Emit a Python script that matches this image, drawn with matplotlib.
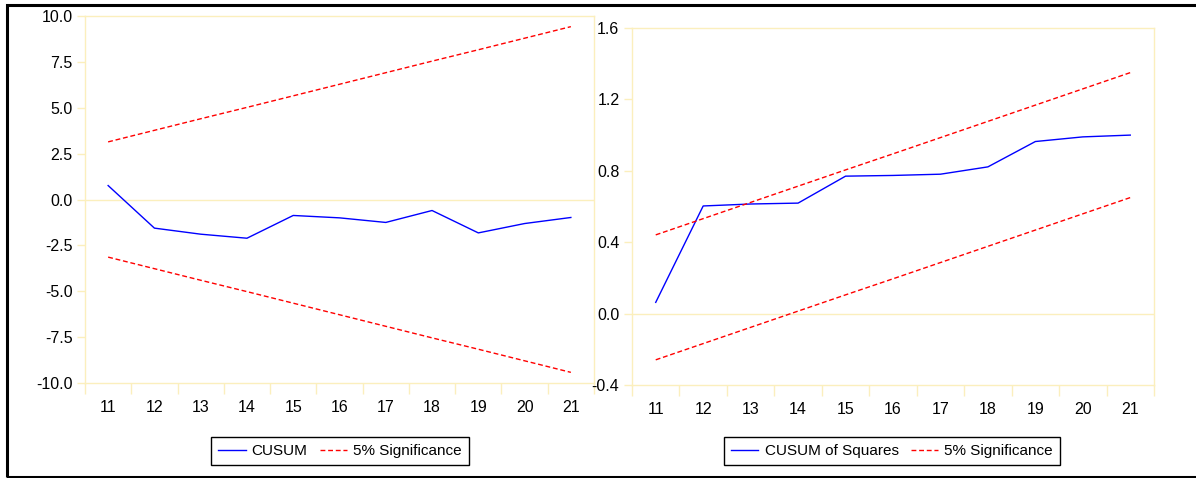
import numpy as np
import matplotlib
matplotlib.use('Agg')
import matplotlib.pyplot as plt
from matplotlib.patches import Rectangle

plt.rcParams['font.family'] = ['Liberation Sans', 'DejaVu Sans']

# 觀測期
periods = [11, 12, 13, 14, 15, 16, 17, 18, 19, 20, 21]

# CUSUM 與 5% 顯著水準界線
cusum = [0.76, -1.56, -1.89, -2.11, -0.87, -1.0, -1.25, -0.6, -1.82, -1.31, -0.98]
cusum_upper = [3.14, 3.77, 4.40, 5.02, 5.65, 6.28, 6.91, 7.54, 8.16, 8.79, 9.42]
cusum_lower = [-3.14, -3.77, -4.40, -5.02, -5.65, -6.28, -6.91, -7.54, -8.16, -8.79, -9.42]

# CUSUM of Squares 與 5% 顯著水準界線
cusumsq = [0.063, 0.603, 0.614, 0.619, 0.77, 0.774, 0.781, 0.822, 0.964, 0.99, 1.0]
sq_upper = [0.441, 0.532, 0.623, 0.714, 0.805, 0.895, 0.986, 1.077, 1.168, 1.259, 1.350]
sq_lower = [-0.259, -0.168, -0.077, 0.014, 0.105, 0.195, 0.286, 0.377, 0.468, 0.559, 0.650]

left_yticks = [-10.0, -7.5, -5.0, -2.5, 0.0, 2.5, 5.0, 7.5, 10.0]
right_yticks = [-0.4, 0.0, 0.4, 0.8, 1.2, 1.6]

frame_col = '#fbefbd'
fs = 11.5

fig = plt.figure(figsize=(11.96, 4.78), dpi=100)

# 外框
fig.patches.append(Rectangle((7 / 1196, 1 - 477 / 478), 1.2, 472 / 478,
                             transform=fig.transFigure, fill=False,
                             edgecolor='black', linewidth=2.2, clip_on=False))


def style_axes(ax, ylim, yticks, fmt):
    ax.set_xlim(10.5, 21.5)
    ax.set_ylim(*ylim)
    for s in ax.spines.values():
        s.set_color(frame_col)
        s.set_linewidth(1.0)
    ax.axhline(0, color=frame_col, lw=1.0, zorder=1)
    ax.set_xticks(periods)
    ax.set_xticklabels([str(p) for p in periods], fontsize=fs)
    ax.set_xticks(np.arange(10.5, 22, 1.0), minor=True)
    ax.tick_params(axis='x', which='major', length=0, pad=12)
    ax.tick_params(axis='x', which='minor', length=8, color=frame_col, width=1)
    ax.set_yticks(yticks)
    ax.set_yticklabels([fmt.format(v) for v in yticks], fontsize=fs)
    ax.tick_params(axis='y', length=6, color=frame_col, width=1, pad=3)


# 左圖：CUSUM
ax1 = fig.add_axes([85 / 1196, 1 - 383 / 478, 509 / 1196, 367 / 478])
l1, = ax1.plot(periods, cusum, color='#0000ff', lw=1.0, zorder=3)
l2, = ax1.plot(periods, cusum_upper, color='#ff0000', lw=1.0, ls=(0, (3.5, 2)), zorder=3)
ax1.plot(periods, cusum_lower, color='#ff0000', lw=1.0, ls=(0, (3.5, 2)), zorder=3)
style_axes(ax1, (-10, 10), left_yticks, '{:.1f}')

# 右圖：CUSUM of Squares
ax2 = fig.add_axes([632 / 1196, 1 - 385 / 478, 522 / 1196, 357 / 478])
r1, = ax2.plot(periods, cusumsq, color='#0000ff', lw=1.0, zorder=3)
r2, = ax2.plot(periods, sq_upper, color='#ff0000', lw=1.0, ls=(0, (3.5, 2)), zorder=3)
ax2.plot(periods, sq_lower, color='#ff0000', lw=1.0, ls=(0, (3.5, 2)), zorder=3)
style_axes(ax2, (-0.4, 1.6), right_yticks, '{:.1f}')

# 圖例
for handles, labels, cx in [((l1, l2), ('CUSUM', '5% Significance'), 340 / 1196),
                            ((r1, r2), ('CUSUM of Squares', '5% Significance'), 892 / 1196)]:
    leg = fig.legend(handles, labels, loc='center', bbox_to_anchor=(cx, 1 - 451 / 478),
                     bbox_transform=fig.transFigure, ncol=2, fontsize=11,
                     fancybox=False, framealpha=1, edgecolor='black',
                     handlelength=1.8, columnspacing=0.8, borderpad=0.45, handletextpad=0.4)
    leg.get_frame().set_linewidth(1.0)

fig.savefig('out.png', dpi=100)
